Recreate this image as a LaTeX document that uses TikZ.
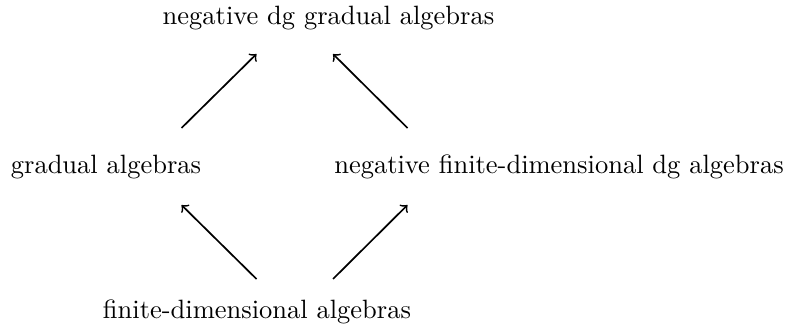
\documentclass[tikz,border=0pt]{standalone}
\begin{document}
\begin{tikzpicture}[x=0.383pt,y=-0.383pt,
  lbl/.style={anchor=base,inner sep=0pt,font=\fontsize{10.15pt}{12pt}\selectfont},
  arr/.style={->,line width=0.65pt}]
\useasboundingbox (0,0) rectangle (787,333);
\node[lbl] (top) at (328.5,25) {negative dg gradual algebras};
\node[lbl] (left) at (106,173) {gradual algebras};
\node[lbl] (right) at (559,173) {negative finite-dimensional dg algebras};
\node[lbl] (bot) at (257,318) {finite-dimensional algebras};
\coordinate (lt) at (181.5,128);
\coordinate (tl) at (256.5,54);
\coordinate (rt) at (407.5,128);
\coordinate (tr) at (333,54);
\coordinate (bl) at (256.5,279);
\coordinate (lb) at (181.5,205);
\coordinate (br) at (333,279);
\coordinate (rb) at (407.5,205);
\draw[arr] (lt) -- (tl);
\draw[arr] (rt) -- (tr);
\draw[arr] (bl) -- (lb);
\draw[arr] (br) -- (rb);
\end{tikzpicture}
\end{document}
